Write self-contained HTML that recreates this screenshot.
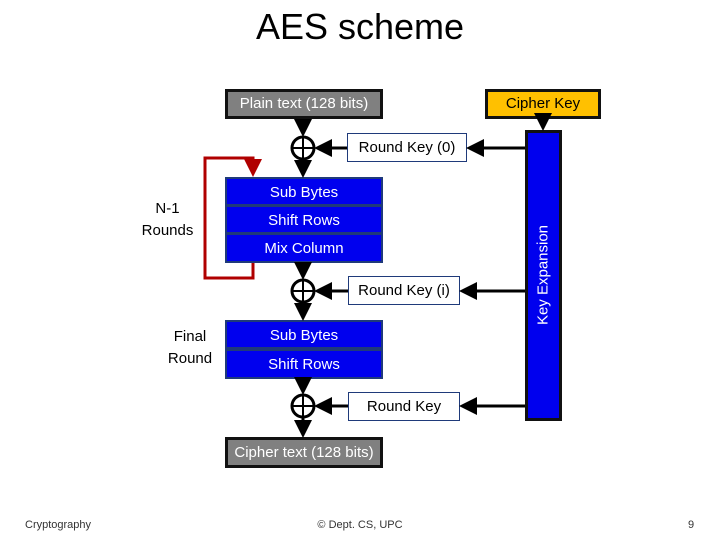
<!DOCTYPE html>
<html><head><style>
body{margin:0;width:720px;height:540px;background:#fff;position:relative;overflow:hidden;font-family:"Liberation Sans",sans-serif}
.a{position:absolute}
.t{text-align:center;box-sizing:border-box}
.blue{background:#0000ee;color:#fff;font-size:15px;text-align:center;line-height:27px;border:2px solid #1f3a7a;box-sizing:border-box;position:absolute;left:225px;width:158px;height:29px}
.rk{position:absolute;background:#fff;border:1px solid #1f3a7a;font-size:15px;text-align:center;box-sizing:border-box;height:29px;line-height:27px}
</style></head><body>
<div class="a t" style="left:0;top:6px;width:720px;font-size:36px">AES scheme</div>
<div class="a t" style="left:225px;top:89px;width:158px;height:30px;background:#808080;border:3px solid #111;color:#fff;font-size:15px;line-height:24px">Plain text (128 bits)</div>
<div class="a t" style="left:485px;top:89px;width:116px;height:30px;background:#ffc000;border:3px solid #111;font-size:15px;line-height:24px">Cipher Key</div>
<div class="a t" style="left:525px;top:130px;width:37px;height:291px;background:#0000ee;border:3px solid #111"></div>
<div class="a" style="left:543px;top:275px;width:0;height:0"><div style="position:absolute;transform:translate(-50%,-50%) rotate(-90deg);white-space:nowrap;color:#fff;font-size:15px">Key Expansion</div></div>
<div class="rk" style="left:347px;top:133px;width:120px">Round Key (0)</div>
<div class="rk" style="left:348px;top:276px;width:112px">Round Key (i)</div>
<div class="rk" style="left:348px;top:392px;width:112px">Round Key</div>
<div class="blue" style="top:177px">Sub Bytes</div>
<div class="blue" style="top:205px">Shift Rows</div>
<div class="blue" style="top:233px;height:30px">Mix Column</div>
<div class="blue" style="top:320px">Sub Bytes</div>
<div class="blue" style="top:349px;height:30px">Shift Rows</div>
<div class="a t" style="left:225px;top:437px;width:158px;height:31px;background:#808080;border:3px solid #111;color:#fff;font-size:15px;line-height:25px">Cipher text (128 bits)</div>
<div class="a t" style="left:120px;top:198px;width:95px;font-size:15px;line-height:22px">N-1<br>Rounds</div>
<div class="a t" style="left:140px;top:326px;width:100px;font-size:15px;line-height:22px">Final<br>Round</div>
<svg class="a" style="left:0;top:0" width="720" height="540">
<defs><marker id="m" markerWidth="6" markerHeight="6" refX="5" refY="3" orient="auto"><path d="M0,0L6,3L0,6z" fill="#000"/></marker>
<marker id="r" markerWidth="6" markerHeight="6" refX="5" refY="3" orient="auto"><path d="M0,0L6,3L0,6z" fill="#b00000"/></marker></defs>
<g stroke="#000" stroke-width="3" fill="none">
<line x1="303" y1="119" x2="303" y2="134" marker-end="url(#m)"/>
<line x1="303" y1="160" x2="303" y2="175" marker-end="url(#m)"/>
<line x1="303" y1="263" x2="303" y2="277" marker-end="url(#m)"/>
<line x1="303" y1="303" x2="303" y2="318" marker-end="url(#m)"/>
<line x1="303" y1="379" x2="303" y2="392" marker-end="url(#m)"/>
<line x1="303" y1="418" x2="303" y2="435" marker-end="url(#m)"/>
<line x1="543" y1="119" x2="543" y2="128" marker-end="url(#m)"/>
<line x1="347" y1="148" x2="317" y2="148" marker-end="url(#m)"/>
<line x1="348" y1="291" x2="317" y2="291" marker-end="url(#m)"/>
<line x1="348" y1="406" x2="317" y2="406" marker-end="url(#m)"/>
<line x1="525" y1="148" x2="469" y2="148" marker-end="url(#m)"/>
<line x1="525" y1="291" x2="462" y2="291" marker-end="url(#m)"/>
<line x1="525" y1="406" x2="462" y2="406" marker-end="url(#m)"/>
<circle cx="303" cy="148" r="11"/><circle cx="303" cy="291" r="11"/><circle cx="303" cy="406" r="11"/>
<path d="M303,138V158M293,148H313M303,281V301M293,291H313M303,396V416M293,406H313" stroke-width="2"/>
</g>
<path d="M253,263V278H205V158H253V174" stroke="#b00000" stroke-width="3" fill="none" marker-end="url(#r)"/>
</svg>
<div class="a" style="left:25px;top:519px;font-size:11px;color:#333">Cryptography</div>
<div class="a t" style="left:260px;top:519px;width:200px;font-size:11px;color:#333">© Dept. CS, UPC</div>
<div class="a" style="left:688px;top:519px;font-size:11px;color:#333">9</div>
</body></html>
